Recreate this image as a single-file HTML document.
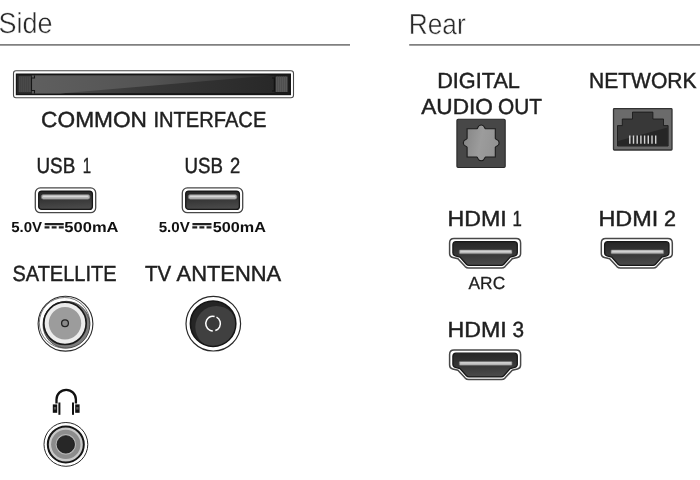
<!DOCTYPE html>
<html><head><meta charset="utf-8"><title>Connectivity</title>
<style>
html,body{margin:0;padding:0;background:#fff;}
body{width:700px;height:480px;overflow:hidden;}
svg{display:block;filter:grayscale(1);}
text{font-family:"Liberation Sans",sans-serif;fill:#1f1f1f;text-rendering:geometricPrecision;}
.h{fill:#2a2a2a;font-size:29px;stroke:#fff;stroke-width:0.45px;}
.l{font-size:21.8px;stroke:#1f1f1f;stroke-width:0.45px;}
.b{font-size:14.4px;font-weight:bold;fill:#111;}
.s{font-size:17.6px;stroke:#1f1f1f;stroke-width:0.3px;}
.dc{font-family:"DejaVu Sans",sans-serif;font-size:24.8px;font-weight:bold;fill:#222;}
</style></head><body>
<svg width="700" height="480" viewBox="0 0 700 480">
<defs>
<linearGradient id="gci" x1="0" y1="0" x2="1" y2="0"><stop offset="0" stop-color="#555353"/><stop offset="0.45" stop-color="#3d3838"/><stop offset="1" stop-color="#2b2524"/></linearGradient>
<linearGradient id="gci2" x1="0" y1="0" x2="1" y2="0"><stop offset="0" stop-color="#5f5f5f"/><stop offset="0.5" stop-color="#555353"/><stop offset="1" stop-color="#332e2d"/></linearGradient>
<linearGradient id="gusb" x1="0" y1="0" x2="0.150" y2="1"><stop offset="0" stop-color="#2a2524"/><stop offset="0.45" stop-color="#383333"/><stop offset="1" stop-color="#4c4848"/></linearGradient>
<linearGradient id="gopt" x1="0" y1="0" x2="1" y2="0.200"><stop offset="0" stop-color="#828282"/><stop offset="0.55" stop-color="#9c9c9c"/><stop offset="1" stop-color="#939393"/></linearGradient>
<linearGradient id="ghd" x1="0" y1="0" x2="0.100" y2="1"><stop offset="0" stop-color="#2a2524"/><stop offset="0.5" stop-color="#393434"/><stop offset="1" stop-color="#4d4949"/></linearGradient>
<g id="usb">
<rect x="0.800" y="0.400" width="60.400" height="24.800" rx="5" fill="#fff" stroke="#4a4848" stroke-width="1.300"/>
<rect x="4.200" y="3.600" width="53.700" height="18.300" rx="3" fill="url(#gusb)" stroke="#1b1616" stroke-width="1.300"/>
<rect x="6.800" y="7.100" width="48.600" height="4.600" rx="2" fill="#b9b9b9" stroke="#6e6c6c" stroke-width="0.700"/>
<rect x="8.500" y="8.300" width="45" height="1.300" rx="0.600" fill="#d8d8d8"/>
</g>
<g id="hdmi">
<path d="M5 0.600 H67.200 Q71.600 0.600 71.600 5 V15.500 Q71.600 18.800 68.500 19.500 L63.300 20.700 L56 28.600 Q54.600 30 52.500 30 H19.700 Q17.600 30 16.200 28.600 L8.900 20.700 L3.700 19.500 Q0.600 18.800 0.600 15.500 V5 Q0.600 0.600 5 0.600 Z" fill="#fff" stroke="#4a4848" stroke-width="1.500"/>
<path d="M7 3.700 H65.200 Q68.300 3.700 68.300 6.800 V14.800 Q68.300 17.200 65.900 17.800 L61.200 19 L54.800 26.200 Q53.700 27.400 52.100 27.400 H20.100 Q18.500 27.400 17.400 26.200 L11 19 L6.300 17.800 Q3.900 17.200 3.900 14.800 V6.800 Q3.900 3.700 7 3.700 Z" fill="url(#ghd)" stroke="#1b1616" stroke-width="1.300"/>
<rect x="10.300" y="11.900" width="52.700" height="3.900" rx="0.800" fill="#bdbdbd" stroke="#6e6c6c" stroke-width="0.600"/>
<rect x="11.500" y="12.700" width="50.300" height="1.200" fill="#d4d4d4"/>
</g>
</defs>
<rect width="700" height="480" fill="#fff"/>
<!-- Side -->
<rect x="0" y="44.200" width="350" height="1.400" fill="#626262"/>
<!-- CI -->
<rect x="13.500" y="70.800" width="280" height="27" rx="2.500" fill="#fff" stroke="#4a4a4a" stroke-width="1.100"/>
<rect x="16.800" y="74.500" width="273.200" height="19.700" fill="url(#gci)" stroke="#1b1515" stroke-width="2"/>
<path d="M32 75.500 H272 L60 93.500 H32 Z" fill="url(#gci2)"/>
<rect x="17" y="75" width="15" height="19" fill="#2a2525"/>
<rect x="18.700" y="76.200" width="12.300" height="16" fill="#4b4949"/>
<path d="M20.500 76.200 V92.200 M22.500 76.200 V92.200 M24.500 76.200 V92.200 M26.500 76.200 V92.200 M28.500 76.200 V92.200" stroke="#434141" stroke-width="0.800" fill="none"/>
<path d="M34.500 75.500 V78 H31.500 V90.500 H34.500 V93.500" fill="none" stroke="#1b1515" stroke-width="1.100"/>
<rect x="274.500" y="75" width="15" height="19" fill="#1f1a1a"/>
<rect x="275.700" y="76.500" width="11.800" height="15.500" fill="#5a5858"/>
<path d="M277.500 76.500 V92 M279.500 76.500 V92 M281.500 76.500 V92 M283.500 76.500 V92 M285.500 76.500 V92" stroke="#4e4c4c" stroke-width="0.800" fill="none"/>
<path d="M272 78 H274.300 V91 H272" fill="none" stroke="#141010" stroke-width="1.100"/>
<use href="#usb" x="34.500" y="187.500"/>
<use href="#usb" x="181.500" y="187.500"/>
<!-- satellite -->
<g>
<circle cx="65.500" cy="323.700" r="27.400" fill="#fff" stroke="#2c2c2c" stroke-width="1.100"/>
<circle cx="64.600" cy="322.800" r="25.300" fill="#fff" stroke="#555" stroke-width="0.800"/>
<circle cx="66.400" cy="324.700" r="23.400" fill="#7c7c7c" stroke="#3a3a3a" stroke-width="0.800"/>
<circle cx="65" cy="323.300" r="21.200" fill="#ececec" stroke="#1a1a1a" stroke-width="1.700"/>
<circle cx="65" cy="323.300" r="16.200" fill="#9c9c9c"/>
<circle cx="65" cy="323.300" r="3.400" fill="#8a8a8a" stroke="#222" stroke-width="1.300"/>
</g>
<!-- antenna -->
<g>
<circle cx="213.300" cy="323.700" r="27.300" fill="#fff" stroke="#2c2828" stroke-width="1.200"/>
<circle cx="213.100" cy="323.700" r="22.700" fill="#2b2423" stroke="#1a1414" stroke-width="1.600"/>
<clipPath id="cpa"><circle cx="213.100" cy="323.700" r="22"/></clipPath>
<circle cx="216.300" cy="327" r="21" fill="#443f3e" clip-path="url(#cpa)"/>
<circle cx="213.100" cy="323.600" r="7.300" fill="#3e3a39" stroke="#fff" stroke-width="1.500" stroke-dasharray="17 2.500 24 2.370" transform="rotate(-62 213.100 323.600)"/>
</g>
<!-- headphone icon -->
<path d="M56.500 403.500 V399.500 A9.700 9.700 0 0 1 75.900 399.500 V403.500" fill="none" stroke="#111" stroke-width="2.300"/>
<rect x="52.800" y="404.400" width="4.400" height="8.400" fill="#111"/>
<rect x="58.400" y="402.500" width="2" height="12.300" fill="#111"/>
<rect x="72" y="402.500" width="2" height="12.300" fill="#111"/>
<rect x="75.200" y="404.400" width="4.400" height="8.400" fill="#111"/>
<rect x="53.800" y="407" width="2.400" height="2.600" fill="#555"/>
<rect x="76.200" y="407" width="2.400" height="2.600" fill="#555"/>
<!-- jack -->
<g>
<circle cx="65.900" cy="444.400" r="21.900" fill="#fff" stroke="#2a2a2a" stroke-width="1"/>
<circle cx="65.800" cy="444.400" r="18" fill="#c9c9c9" stroke="#151515" stroke-width="2"/>
<circle cx="65.800" cy="444.400" r="14.700" fill="#8c8c8c"/>
<circle cx="65.800" cy="444.400" r="10.300" fill="#b4b4b4"/>
<circle cx="65.800" cy="444.400" r="8.700" fill="#2d2625" stroke="#141010" stroke-width="0.800"/>
</g>
<!-- Rear -->
<rect x="409.200" y="44.200" width="291" height="1.400" fill="#626262"/>
<!-- optical -->
<rect x="456.900" y="119.200" width="48.300" height="48.300" rx="1.200" fill="#4a4646" stroke="#2c2727" stroke-width="1.100"/>
<path d="M467.10 128.80 H476.80 C478.30 128.50 477.30 125.00 481.20 125.00 C485.10 125.00 484.10 128.50 485.60 128.80 H495.30 V138.50 C495.60 140.00 499.10 139.00 499.10 142.90 C499.10 146.80 495.60 145.80 495.30 147.30 V157.00 H485.60 C484.10 157.30 485.10 160.80 481.20 160.80 C477.30 160.80 478.30 157.30 476.80 157.00 H467.10 V147.30 C466.80 145.80 463.30 146.80 463.30 142.90 C463.30 139.00 466.80 140.00 467.10 138.50 Z" fill="url(#gopt)" stroke="#1f1a1a" stroke-width="1.100" stroke-linejoin="miter"/>
<!-- network -->
<rect x="613.500" y="108.700" width="58.500" height="41.300" rx="0.800" fill="#6b6b6b" stroke="#343131" stroke-width="1.300"/>
<path d="M617.500 146 V125.600 H622.300 V119 H632.500 V112.100 H652.900 V119 H663.500 V125.600 H668.100 V146 Z" fill="#3c3736" stroke="#1f1a1a" stroke-width="0.900"/>
<path d="M618 141 L667.600 127.500 V145.500 H618 Z" fill="#2b2524"/>
<g stroke="#d9d2d2" stroke-width="1.400">
<path d="M629.800 135.400 V143.800 M633.500 135.400 V143.800 M637.200 135.400 V143.800 M640.900 135.400 V143.800 M644.600 135.400 V143.800 M648.300 135.400 V143.800 M652 135.400 V143.800 M655.700 135.400 V143.800"/>
</g>
<!-- HDMI -->
<use href="#hdmi" x="449" y="238"/>
<use href="#hdmi" x="600.700" y="238"/>
<use href="#hdmi" x="449" y="349.500"/>
<text class="h"><tspan x="-1.45" y="32.6" textLength="54.05" lengthAdjust="spacingAndGlyphs">Side</tspan></text>
<text class="h"><tspan x="408.73" y="33.6" textLength="56.95" lengthAdjust="spacingAndGlyphs">Rear</tspan></text>
<text class="l"><tspan x="41.14" y="126.5" textLength="105.89" lengthAdjust="spacingAndGlyphs">COMMON</tspan> <tspan x="153.46" y="126.5" textLength="112.84" lengthAdjust="spacingAndGlyphs">INTERFACE</tspan></text>
<text class="l"><tspan x="36.46" y="173.1" textLength="38.77" lengthAdjust="spacingAndGlyphs">USB</tspan> <tspan x="82.86" y="173.1" textLength="8.32" lengthAdjust="spacingAndGlyphs">1</tspan></text>
<text class="l"><tspan x="184.46" y="173.1" textLength="38.43" lengthAdjust="spacingAndGlyphs">USB</tspan> <tspan x="229.94" y="173.1" textLength="10.20" lengthAdjust="spacingAndGlyphs">2</tspan></text>
<text class="l"><tspan x="12.49" y="281.2" textLength="104.01" lengthAdjust="spacingAndGlyphs">SATELLITE</tspan></text>
<text class="l"><tspan x="145.10" y="281.2" textLength="26.08" lengthAdjust="spacingAndGlyphs">TV</tspan> <tspan x="176.56" y="281.2" textLength="104.66" lengthAdjust="spacingAndGlyphs">ANTENNA</tspan></text>
<text class="l"><tspan x="437.17" y="87.7" textLength="82.79" lengthAdjust="spacingAndGlyphs">DIGITAL</tspan></text>
<text class="l"><tspan x="421.19" y="114.3" textLength="71.76" lengthAdjust="spacingAndGlyphs">AUDIO</tspan> <tspan x="497.99" y="114.3" textLength="44.01" lengthAdjust="spacingAndGlyphs">OUT</tspan></text>
<text class="l"><tspan x="588.99" y="88.3" textLength="107.56" lengthAdjust="spacingAndGlyphs">NETWORK</tspan></text>
<text class="l"><tspan x="447.44" y="226.1" textLength="59.31" lengthAdjust="spacingAndGlyphs">HDMI</tspan> <tspan x="512.55" y="226.1" textLength="9.33" lengthAdjust="spacingAndGlyphs">1</tspan></text>
<text class="l"><tspan x="598.44" y="226.1" textLength="59.83" lengthAdjust="spacingAndGlyphs">HDMI</tspan> <tspan x="663.88" y="226.1" textLength="11.98" lengthAdjust="spacingAndGlyphs">2</tspan></text>
<text class="l"><tspan x="447.44" y="337.4" textLength="59.31" lengthAdjust="spacingAndGlyphs">HDMI</tspan> <tspan x="512.39" y="337.4" textLength="11.53" lengthAdjust="spacingAndGlyphs">3</tspan></text>
<text class="s"><tspan x="468.57" y="288.8" textLength="36.60" lengthAdjust="spacingAndGlyphs">ARC</tspan></text>
<text class="b"><tspan x="11.15" y="232.1" textLength="30.87" lengthAdjust="spacingAndGlyphs">5.0V</tspan><tspan class="dc" x="44.2" y="233.2">⎓</tspan><tspan x="64.36" y="232.1" textLength="54.15" lengthAdjust="spacingAndGlyphs">500mA</tspan></text>
<text class="b"><tspan x="158.65" y="232.1" textLength="31.13" lengthAdjust="spacingAndGlyphs">5.0V</tspan><tspan class="dc" x="192.0" y="233.2">⎓</tspan><tspan x="212.72" y="232.1" textLength="53.13" lengthAdjust="spacingAndGlyphs">500mA</tspan></text>
</svg>
</body></html>
